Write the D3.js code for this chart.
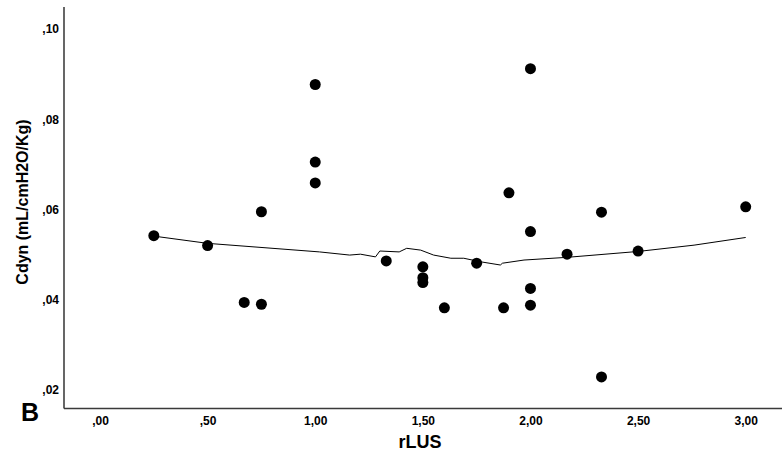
<!DOCTYPE html>
<html>
<head>
<meta charset="utf-8">
<script src="https://cdn.jsdelivr.net/npm/d3@7"></script>
<style>
  html, body { margin: 0; padding: 0; background: #fff; }
  svg { display: block; font-family: "Liberation Sans", Arial, sans-serif; }
</style>
</head>
<body>
<svg id="chart" width="782" height="458"></svg>
<script>
// Data
const rLUS = [0.25, 0.50, 0.67, 0.75, 0.75, 1.00, 1.00, 1.00, 1.33, 1.50, 1.50, 1.50, 1.60, 1.75, 1.875, 1.90, 2.00, 2.00, 2.00, 2.00, 2.17, 2.33, 2.33, 2.50, 3.00];
const cdyn = [0.0542, 0.0520, 0.0394, 0.0390, 0.0595, 0.0877, 0.0705, 0.0659, 0.0486, 0.0473, 0.0449, 0.0438, 0.0382, 0.0481, 0.0382, 0.0637, 0.0912, 0.0551, 0.0425, 0.0388, 0.0501, 0.0594, 0.0229, 0.0508, 0.0606];

// Fit line (loess)
const fitX = [0.25, 0.50, 1.02, 1.16, 1.21, 1.28, 1.30, 1.39, 1.425, 1.49, 1.55, 1.63, 1.69, 1.77, 1.86, 1.87, 1.97, 2.17, 2.50, 2.76, 3.00];
const fitY = [0.0541, 0.0525, 0.0506, 0.0499, 0.0501, 0.0495, 0.0508, 0.0506, 0.0514, 0.0510, 0.0499, 0.0492, 0.0492, 0.0484, 0.0477, 0.0481, 0.0488, 0.0494, 0.0507, 0.0521, 0.0538];

const xTicks = [0, 0.5, 1, 1.5, 2, 2.5, 3];
const yTicks = [0.02, 0.04, 0.06, 0.08, 0.10];

const svg = d3.select("#chart");

const x = d3.scaleLinear().domain([0, 3]).range([100, 745.7]);
const y = d3.scaleLinear().domain([0.02, 0.10]).range([390, 29]);

const fmt = v => {
  const s = d3.format(".2f")(v).replace(".", ",");
  return s.startsWith("0,") ? s.slice(1) : s;
};

// axis lines
svg.append("line").attr("x1", 64).attr("x2", 64).attr("y1", 7).attr("y2", 408.5)
  .attr("stroke", "#000").attr("stroke-width", 1.2);
svg.append("line").attr("x1", 64).attr("x2", 782).attr("y1", 408.5).attr("y2", 408.5)
  .attr("stroke", "#3a3a3a").attr("stroke-width", 1.4);

// y axis labels
const gy = svg.append("g").attr("transform", "translate(64,0)")
  .call(d3.axisLeft(y).tickValues(yTicks).tickFormat(fmt).tickSize(0).tickPadding(5));
gy.select(".domain").remove();
gy.selectAll("text").attr("font-size", 12).attr("font-weight", "bold")
  .attr("font-family", "Liberation Sans, Arial, sans-serif").attr("fill", "#000");

// x axis labels
const gx = svg.append("g").attr("transform", "translate(0,408.5)")
  .call(d3.axisBottom(x).tickValues(xTicks).tickFormat(fmt).tickSize(0).tickPadding(8));
gx.select(".domain").remove();
gx.selectAll("text").attr("font-size", 12).attr("font-weight", "bold")
  .attr("font-family", "Liberation Sans, Arial, sans-serif").attr("fill", "#000");

// fit line
const line = d3.line().x(d => x(d[0])).y(d => y(d[1]));
svg.append("path")
  .datum(fitX.map((v, i) => [v, fitY[i]]))
  .attr("d", line)
  .attr("fill", "none").attr("stroke", "#000").attr("stroke-width", 1);

// points
svg.append("g").selectAll("circle")
  .data(rLUS.map((v, i) => [v, cdyn[i]]))
  .join("circle")
  .attr("cx", d => x(d[0])).attr("cy", d => y(d[1]))
  .attr("r", 5.5).attr("fill", "#000");

// titles
svg.append("text").attr("x", 420).attr("y", 448).attr("text-anchor", "middle")
  .attr("font-size", 18).attr("font-weight", "bold").text("rLUS");
svg.append("text").attr("transform", "translate(28,202) rotate(-90)")
  .attr("text-anchor", "middle").attr("font-size", 16).attr("font-weight", "bold")
  .text("Cdyn (mL/cmH2O/Kg)");
svg.append("text").attr("x", 21).attr("y", 421)
  .attr("font-size", 25).attr("font-weight", "bold").text("B");
</script>
</body>
</html>
